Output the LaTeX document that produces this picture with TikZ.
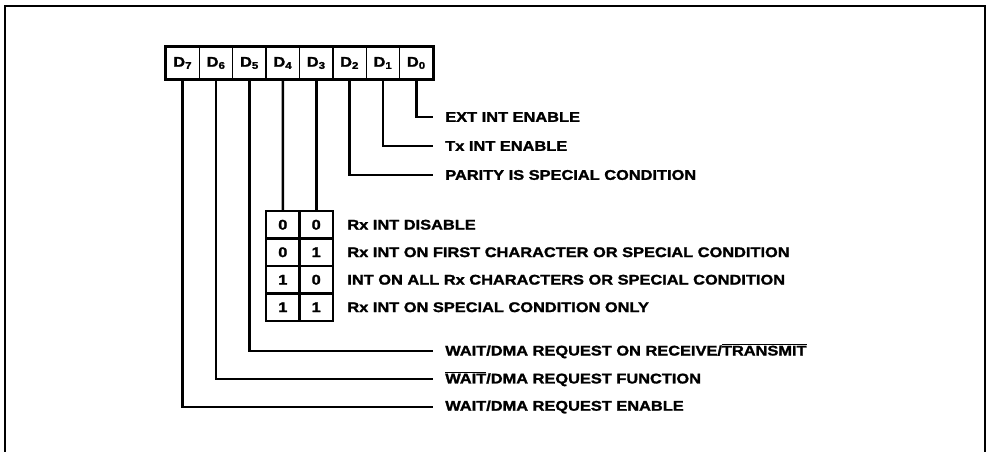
\documentclass[tikz,border=0pt]{standalone}
\usepackage{fontspec}
\setmainfont{Liberation Sans}[FakeStretch=1.17,BoldFeatures={FakeBold=1.6}]
\usepackage{tikz}
\usetikzlibrary{
    positioning,
    calc
}
\newcommand{\ovl}[1]{$\overline{\hbox{#1}}$}

\begin{document}
\begin{tikzpicture}[
    x=1pt,
    y=-1pt,
    line width=2.6pt,
    txt/.style={font=\bfseries\fontsize{14}{16}\selectfont},
    bitcell/.style={
        draw,
        line width=1.3pt,
        minimum width=33.4pt,
        minimum height=32pt,
        inner sep=0pt,
        txt
    },
    codecell/.style={
        draw,
        line width=2.4pt,
        minimum width=33.4pt,
        minimum height=27.5pt,
        inner sep=0pt,
        txt
    },
    desc/.style={
        anchor=west,
        inner xsep=11pt,
        inner ysep=0pt,
        txt
    }
]
\useasboundingbox (0,0) rectangle (989,452);

% =============================================================
% Frame (open at the bottom)
% =============================================================
\draw[line width=2pt] (5,452) -- (5,6) -- (985,6) -- (985,452);

% =============================================================
% Register bits D7 ... D0
% =============================================================
\foreach \i in {7,6,...,0}{
    \node[bitcell] (d\i) at ({182.7+33.375*(7-\i)},63) {D\textsubscript{\i}};
}
\draw[line width=2.8pt] (d7.north west) rectangle (d0.south east);

% Single-bit fields
\node[desc] (ext) at (433,117) {EXT INT ENABLE};
\node[desc] (txi) at (433,146) {Tx INT ENABLE};
\node[desc] (par) at (433,175) {PARITY IS SPECIAL CONDITION};

\draw (d0.south) |- (ext.west);
\draw (d1.south) |- (txi.west);
\draw (d2.south) |- (par.west);

% =============================================================
% Rx interrupt modes (D4, D3)
% =============================================================
\foreach \r/\a/\b/\txt in {
    0/0/0/{Rx INT DISABLE},
    1/0/1/{Rx INT ON FIRST CHARACTER OR SPECIAL CONDITION},
    2/1/0/{INT ON ALL Rx CHARACTERS OR SPECIAL CONDITION},
    3/1/1/{Rx INT ON SPECIAL CONDITION ONLY}}{
    \node[codecell] (ca\r) at (282.8,{224.75+27.5*\r}) {\a};
    \node[codecell] (cb\r) at (316.2,{224.75+27.5*\r}) {\b};
    \node[desc, inner xsep=12pt] (rx\r) at (cb\r.east) {\txt};
}

\draw (d4.south) -- (ca0.north);
\draw (d3.south) -- (cb0.north);

% =============================================================
% Wait/DMA fields
% =============================================================
\node[desc] (wrt) at (433,351) {WAIT/DMA REQUEST ON RECEIVE/\ovl{TRANSMIT}};
\node[desc] (wfn) at (433,379) {\ovl{WAIT}/DMA REQUEST FUNCTION};
\node[desc] (wen) at (433,407) {WAIT/DMA REQUEST ENABLE};

\draw (d5.south) |- (wrt.west);
\draw (d6.south) |- (wfn.west);
\draw (d7.south) |- (wen.west);

\end{tikzpicture}
\end{document}
